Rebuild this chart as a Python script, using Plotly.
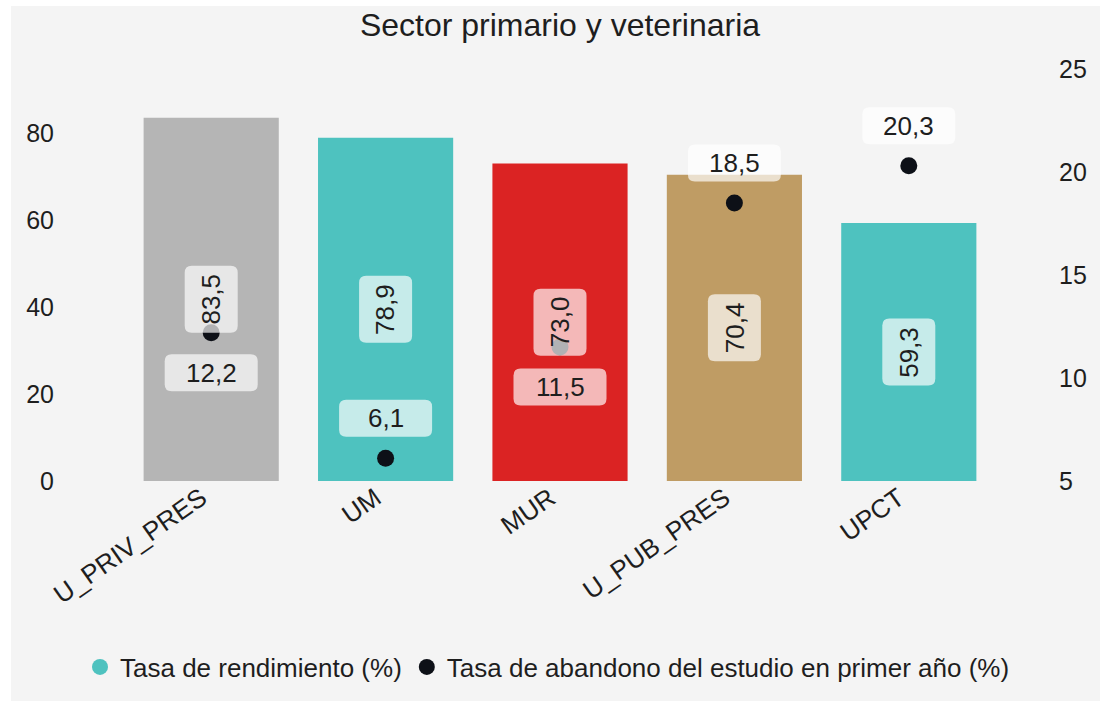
import plotly.graph_objects as go

# ---- data ----
categories = ["U_PRIV_PRES", "UM", "MUR", "U_PUB_PRES", "UPCT"]
rendimiento = [83.5, 78.9, 73.0, 70.4, 59.3]
abandono = [12.2, 6.1, 11.5, 18.5, 20.3]
bar_colors = ["#b5b5b5", "#4ec2bf", "#db2323", "#bf9c64", "#4ec2bf"]
series_names = ["Tasa de rendimiento (%)", "Tasa de abandono del estudio en primer año (%)"]
title_text = "Sector primario y veterinaria"

# ---- layout constants ----
W, H = 1100, 701
ML, MR, MT, MB = 124, 104, 69, 220
PW, PH = W - ML - MR, H - MT - MB
Y1_RANGE = [0, 94.7]
Y2_RANGE = [5, 25]
FONT = "Liberation Sans, Arial, sans-serif"
TXT = "#1e1e1e"
BG = "#f4f4f4"
BOX = "rgba(255,255,255,0.68)"


def fmt(v):
    return f"{v:.1f}".replace(".", ",")


def py1(v):
    return PH * (v - Y1_RANGE[0]) / (Y1_RANGE[1] - Y1_RANGE[0])


def py2(v):
    return PH * (v - Y2_RANGE[0]) / (Y2_RANGE[1] - Y2_RANGE[0])


def rounded_box(xa, ya, yref, a, b, cy=0.0, r=7):
    """Rounded rectangle, in pixels around the anchor (xa, ya)."""
    path = (f"M {-a + r},{cy - b} L {a - r},{cy - b} Q {a},{cy - b} {a},{cy - b + r} "
            f"L {a},{cy + b - r} Q {a},{cy + b} {a - r},{cy + b} "
            f"L {-a + r},{cy + b} Q {-a},{cy + b} {-a},{cy + b - r} "
            f"L {-a},{cy - b + r} Q {-a},{cy - b} {-a + r},{cy - b} Z")
    return dict(type="path", xref="x", yref=yref, xsizemode="pixel", ysizemode="pixel",
                xanchor=xa, yanchor=ya, path=path, fillcolor=BOX,
                line=dict(width=0), layer="above")


fig = go.Figure()
fig.add_trace(go.Bar(
    x=categories, y=rendimiento, name=series_names[0],
    marker=dict(color=bar_colors, line=dict(width=0)),
    showlegend=False, hoverinfo="x+y",
))
fig.add_trace(go.Scatter(
    x=categories, y=abandono, name=series_names[1], yaxis="y2",
    mode="markers", marker=dict(color="#0d1017", size=17),
    showlegend=False,
))
# legend entries (circle symbols)
fig.add_trace(go.Scatter(x=[None], y=[None], mode="markers", name=series_names[0],
                         marker=dict(color="#4ec2bf", size=17), showlegend=True))
fig.add_trace(go.Scatter(x=[None], y=[None], mode="markers", name=series_names[1],
                         marker=dict(color="#0d1017", size=17), showlegend=True))

annotations = []
shapes = [dict(type="rect", xref="paper", yref="paper", layer="below",
               x0=(11 - ML) / PW, x1=(W + 20 - ML) / PW,
               y0=-(MB + 20) / PH, y1=(PH + MT - 6) / PH,
               fillcolor=BG, line=dict(width=0))]
for c, v, d in zip(categories, rendimiento, abandono):
    shapes.append(rounded_box(c, v / 2, "y", 26.5, 33.5))
    annotations.append(dict(
        x=c, y=v / 2, xref="x", yref="y", text=fmt(v), showarrow=False,
        textangle=-90, font=dict(family=FONT, size=26, color=TXT),
    ))
    below = abs(py2(d) - py1(v / 2)) < 60
    shift = -40 if below else 40
    shapes.append(rounded_box(c, d, "y2", 46.5, 18.5, cy=shift))
    annotations.append(dict(
        x=c, y=d, xref="x", yref="y2", text=fmt(d), showarrow=False,
        yshift=shift, font=dict(family=FONT, size=26, color=TXT),
    ))

fig.update_layout(
    width=W, height=H,
    margin=dict(l=ML, r=MR, t=MT, b=MB, pad=0, autoexpand=False),
    paper_bgcolor="#ffffff",
    plot_bgcolor=BG,
    font=dict(family=FONT, size=25, color=TXT),
    title=dict(text=title_text, x=0.5, xref="paper", xanchor="center",
               y=1 - 25 / H, yref="container", yanchor="middle",
               font=dict(family=FONT, size=32, color=TXT)),
    bargap=0.225,
    xaxis=dict(type="category", tickangle=-35, showgrid=False, zeroline=False,
               showline=False, ticks="", ticklabelshift=-10, ticklabelstandoff=-4,
               tickfont=dict(size=26, color=TXT)),
    yaxis=dict(range=Y1_RANGE, tickvals=[0, 20, 40, 60, 80], showgrid=False,
               zeroline=False, showline=False, ticks="", ticklabelstandoff=69,
               tickfont=dict(size=25, color=TXT)),
    yaxis2=dict(range=Y2_RANGE, overlaying="y", side="right",
                tickvals=[5, 10, 15, 20, 25], showgrid=False, zeroline=False,
                showline=False, ticks="", ticklabelstandoff=62,
                tickfont=dict(size=25, color=TXT)),
    legend=dict(orientation="h", x=(80 - ML) / PW, xref="paper", xanchor="left",
                y=-(667 - (MT + PH)) / PH, yref="paper", yanchor="middle",
                font=dict(size=26, color=TXT), bgcolor="rgba(0,0,0,0)",
                itemwidth=30, tracegroupgap=0),
    annotations=annotations,
    shapes=shapes,
)

fig.write_html(
    "out.html",
    config={"displayModeBar": False},
    post_script=("document.documentElement.style.background='#f4f4f4';"
                 "document.body.style.margin='0';"
                 "document.body.style.background='#f4f4f4';"),
)
